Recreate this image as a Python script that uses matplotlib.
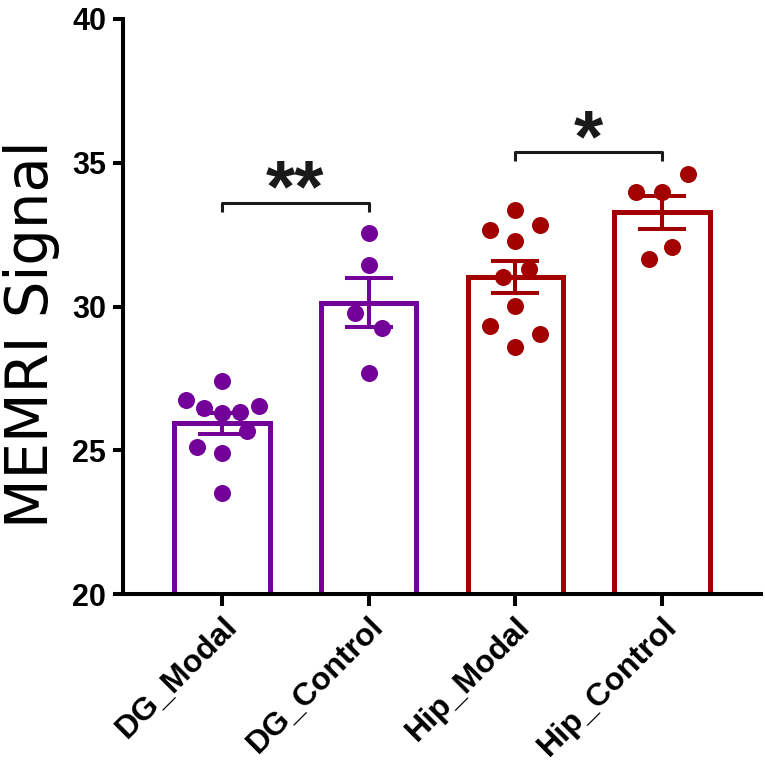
import matplotlib
matplotlib.use('Agg')
import matplotlib.pyplot as plt
import matplotlib.transforms as mtransforms

categories = ['DG_Modal', 'DG_Control', 'Hip_Modal', 'Hip_Control']
bar_colors = ['#74009A', '#74009A', '#A30000', '#A30000']

dg_modal = [27.42, 26.75, 26.48, 26.28, 26.34, 26.54, 25.68, 25.10, 24.89, 23.50]
dg_control = [32.55, 31.44, 29.76, 29.24, 27.68]
hip_modal = [33.36, 32.66, 32.83, 32.29, 31.01, 31.29, 30.01, 29.32, 29.03, 28.60]
hip_control = [34.61, 33.99, 33.99, 32.07, 31.64]

dg_modal_jitter = [0, -0.245, -0.12, 0, 0.125, 0.25, 0.17, -0.17, 0, 0]
dg_control_jitter = [0, 0, -0.09, 0.09, 0]
hip_modal_jitter = [0, -0.175, 0.17, 0, -0.085, 0.09, 0, -0.175, 0.17, 0]
hip_control_jitter = [0.175, -0.177, 0, 0.068, -0.087]

means = [25.94, 30.13, 31.03, 33.27]
sems = [0.36, 0.85, 0.55, 0.59]

comparisons = [(0, 1, 33.6, '**'), (2, 3, 35.36, '*')]

y_ticks = [20, 25, 30, 35, 40]

fig = plt.figure(figsize=(7.65, 7.78), dpi=100)
ax = fig.add_axes([123/765, 1-594/778, (761-123)/765, (594-19)/778])

xs = list(range(len(categories)))
ax.bar(xs, means, width=0.65, color='white', edgecolor=bar_colors,
       linewidth=3.6, zorder=2)
for x, m, s, c in zip(xs, means, sems, bar_colors):
    ax.errorbar(x, m, yerr=s, color=c, elinewidth=2.9, capsize=17,
                capthick=2.9, zorder=3)

groups = [dg_modal, dg_control, hip_modal, hip_control]
jitters = [dg_modal_jitter, dg_control_jitter, hip_modal_jitter, hip_control_jitter]
for x, vals, jit, c in zip(xs, groups, jitters, bar_colors):
    ax.scatter([x + j for j in jit], vals, s=150, color=c, zorder=4,
               linewidths=0)

for a, b, y, label in comparisons:
    ax.plot([a, a, b, b], [y - 0.3, y, y, y - 0.3], color='#1a1a1a',
            lw=2.2, solid_capstyle='butt', zorder=5, clip_on=False)
    ax.text((a + b) / 2, y - 0.3, label, ha='center', va='baseline',
            fontsize=54, fontweight='bold', family='Liberation Sans',
            color='#1a1a1a')

ax.set_xlim(-0.675, 3.675)
ax.set_ylim(20, 40)
ax.set_yticks(y_ticks)
ax.set_xticks(xs)
ax.set_xticklabels(categories, rotation=45, ha='right', va='top',
                   rotation_mode='anchor')
for lab in ax.get_xticklabels() + ax.get_yticklabels():
    lab.set_fontfamily('Liberation Sans')
    lab.set_fontweight('bold')
    lab.set_fontsize(22)
for lab in ax.get_xticklabels():
    lab.set_fontsize(23)
offset = mtransforms.ScaledTranslation(11/100, -4/100, fig.dpi_scale_trans)
for lab in ax.get_xticklabels():
    lab.set_transform(lab.get_transform() + offset)

for side in ['top', 'right']:
    ax.spines[side].set_visible(False)
for side in ['left', 'bottom']:
    ax.spines[side].set_linewidth(2.9)
    ax.spines[side].set_color('black')
ax.tick_params(axis='y', length=7, width=2.9, pad=5)
ax.tick_params(axis='x', length=8.6, width=2.9, pad=4)

ylab = fig.text(48/765, 1-334/778, 'MEMRI Signal', rotation=90, ha='center',
                va='baseline', rotation_mode='anchor', fontsize=36,
                family='DejaVu Sans')
fig.canvas.draw()
ext = ylab.get_window_extent(fig.canvas.get_renderer())
ylab.set_fontsize(36 * 388 / ext.height)

fig.savefig('out.png', dpi=100)
